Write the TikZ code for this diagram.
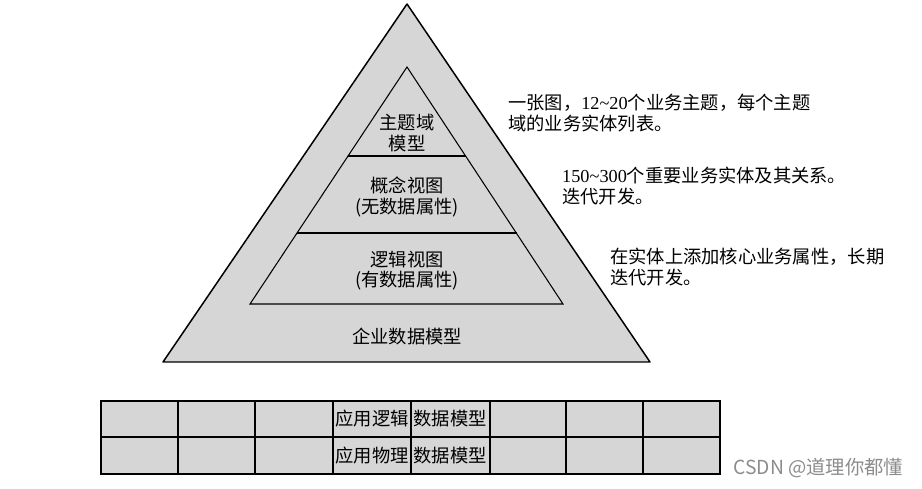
\documentclass[tikz,border=0pt]{standalone}
\usepackage{fontspec}
\setmainfont{Noto Sans CJK SC}
\newfontfamily\numfont{Liberation Serif}
\definecolor{paper}{gray}{0.84}
\definecolor{markgray}{gray}{0.55}
\tikzset{
	layertext/.style={draw=none, align=center, font=\fontsize{10.4}{11.5}\selectfont},
	notetext/.style={draw=none, anchor=west, align=left, font=\fontsize{10.4}{11.5}\selectfont},
	celltext/.style={draw=none, inner sep=0pt, font=\fontsize{10.4}{12}\selectfont},
}
\begin{document}
\begin{tikzpicture}[x=0.02cm,y=-0.02cm]
			\useasboundingbox (0,0) rectangle (922,489);

			% pyramid
			\coordinate (top) at (407,4);
			\coordinate (bl) at (163,362);
			\coordinate (br) at (650,362);
			\draw[black, fill=paper, line width=0.85pt, line join=round] (top) -- (bl) -- (br) -- cycle;

			\coordinate (itop) at (407,67);
			\coordinate (ibl) at (250,304);
			\coordinate (ibr) at (563,304);
			\draw[black, line width=0.6pt] (itop) -- (ibl) -- (ibr) -- cycle;
			\draw[black, line width=0.6pt]
			(348,156) -- (466,156)
			(297,233) -- (517,233);

			\draw (407,133) node (subject) [layertext] {主题域\\模型};
			\draw (407,197) node (concept) [layertext] {概念视图\\(无数据属性)};
			\draw (407,271) node (logic) [layertext] {逻辑视图\\(有数据属性)};
			\draw (407,337) node (enterprise) [layertext] {企业数据模型};

			% notes on the right
			\draw (502,113) node (note1) [notetext] {一张图，{\numfont 12\textasciitilde20}个业务主题，每个主题\\域的业务实体列表。};
			\draw (556,186) node (note2) [notetext] {{\numfont 150\textasciitilde300}个重要业务实体及其关系。\\迭代开发。};
			\draw (604,267) node (note3) [notetext] {在实体上添加核心业务属性，长期\\迭代开发。};

			% application models
			\draw[black, fill=paper, line width=0.6pt] (101,401) rectangle (720,474);
			\draw[black, line width=0.6pt] (101,437) -- (720,437);
			\foreach \x in {178,255,333,411,490,566,643}
				\draw[black, line width=0.6pt] (\x,401) -- (\x,474);

			\draw (372,419) node (applogic) [celltext] {应用逻辑};
			\draw (450,419) node (logicdata) [celltext] {数据模型};
			\draw (372,456) node (appphys) [celltext] {应用物理};
			\draw (450,456) node (physdata) [celltext] {数据模型};

			\draw (733,468) node (mark) [draw=none, anchor=west, inner sep=0pt, markgray, font=\fontsize{11}{12}\selectfont] {CSDN @道理你都懂};
\end{tikzpicture}
\end{document}
